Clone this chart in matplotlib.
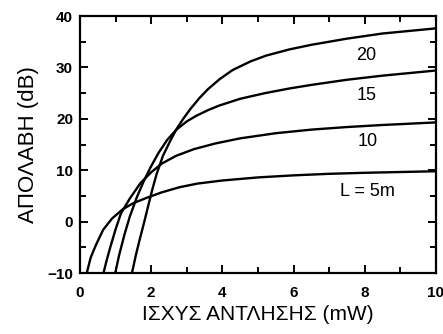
import matplotlib
matplotlib.use('Agg')
import matplotlib.pyplot as plt
from matplotlib.ticker import MultipleLocator

# -----------------------------
# Data (pump power in mW, gain in dB)
# -----------------------------
p_5 = [0.19, 0.3, 0.45, 0.65, 0.9, 1.2, 1.5, 1.9, 2.3, 2.8, 3.3, 4.0, 5.0, 6.0, 7.0, 8.0, 9.0, 10.0]
g_5 = [-10, -7.0, -4.5, -1.6, 0.6, 2.4, 3.6, 4.7, 5.7, 6.7, 7.4, 8.0, 8.6, 9.0, 9.3, 9.5, 9.65, 9.8]

p_10 = [0.66, 0.75, 0.85, 1.0, 1.15, 1.4, 1.7, 2.0, 2.3, 2.7, 3.2, 3.8, 4.5, 5.5, 6.5, 7.5, 8.5, 10.0]
g_10 = [-10, -7.5, -5.0, -1.5, 1.6, 4.5, 7.5, 9.6, 11.3, 12.8, 14.1, 15.2, 16.2, 17.2, 17.9, 18.4, 18.8, 19.3]

p_15 = [0.99, 1.1, 1.25, 1.4, 1.6, 1.8, 2.0, 2.2, 2.45, 2.71, 3.0, 3.27, 3.6, 3.92, 4.5, 5.2,
        5.88, 6.5, 7.5, 8.5, 10.0]
g_15 = [-10, -6.5, -2.5, 1.0, 4.8, 8.0, 10.8, 13.3, 15.9, 17.9, 19.5, 20.6, 21.7, 22.6, 23.9, 25.0,
        25.9, 26.6, 27.6, 28.4, 29.4]

p_20 = [1.46, 1.57, 1.68, 1.8, 1.91, 2.03, 2.15, 2.33, 2.52, 2.71, 2.9, 3.1, 3.35, 3.6, 3.92, 4.29,
        4.8, 5.23, 5.88, 6.5, 7.5, 8.5, 10.0]
g_20 = [-10, -6.5, -3.4, -0.2, 2.9, 6.2, 9.2, 12.8, 15.5, 18.0, 20.0, 21.9, 24.0, 25.8, 27.7, 29.5,
        31.2, 32.3, 33.5, 34.4, 35.6, 36.6, 37.6]

curve_labels = ['L = 5m', '10', '15', '20']
label_pos = [(8.07, 5.8), (8.07, 15.5), (8.05, 24.6), (8.05, 32.4)]

# -----------------------------
# Plot
# -----------------------------
plt.rcParams['font.family'] = ['Liberation Sans', 'DejaVu Sans']

fig = plt.figure(figsize=(4.43, 3.34), dpi=100)
ax = fig.add_axes([0.1806, 0.1826, 0.8034, 0.7694])

for p, g in [(p_5, g_5), (p_10, g_10), (p_15, g_15), (p_20, g_20)]:
    ax.plot(p, g, color='black', linewidth=1.7, solid_capstyle='round', solid_joinstyle='round')

for text, (x, y) in zip(curve_labels, label_pos):
    ax.text(x, y, text, fontsize=13, ha='center', va='center', color='black')

ax.set_xlim(0, 10)
ax.set_ylim(-10, 40)
ax.xaxis.set_major_locator(MultipleLocator(2))
ax.xaxis.set_minor_locator(MultipleLocator(1))
ax.yaxis.set_major_locator(MultipleLocator(10))
ax.yaxis.set_minor_locator(MultipleLocator(5))

ax.tick_params(which='both', direction='in', top=True, right=True, width=1.4)
ax.tick_params(which='major', length=6, labelsize=11, pad=5)
ax.tick_params(axis='x', which='major', pad=9)
ax.tick_params(which='minor', length=4)
for lab in ax.get_xticklabels() + ax.get_yticklabels():
    lab.set_fontweight('bold')
for s in ax.spines.values():
    s.set_linewidth(1.6)

ax.set_xlabel('ΙΣΧΥΣ ΑΝΤΛΗΣΗΣ (mW)', fontsize=15, labelpad=4)
ax.set_ylabel('ΑΠΟΛΑΒΗ (dB)', fontsize=16, labelpad=6)

fig.savefig('out.png', dpi=100)
plt.close(fig)
